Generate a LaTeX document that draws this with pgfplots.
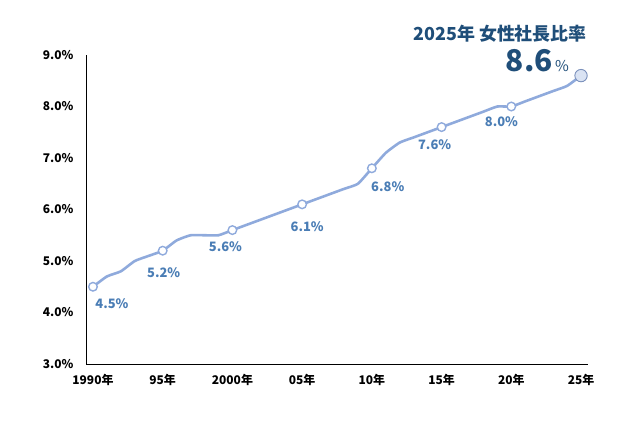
\documentclass[border=0pt]{standalone}
\usepackage{pgfplots}
\pgfplotsset{compat=1.18}
\usepackage{fontspec}
\setmainfont{Noto Sans CJK JP}
\definecolor{linec}{HTML}{8FAADC}
\definecolor{lastfill}{HTML}{DAE3F3}
\definecolor{labc}{HTML}{4A7DB5}
\definecolor{titlec}{HTML}{1F4E79}
\begin{document}
\begin{tikzpicture}
\path[use as bounding box] (0bp,0bp) rectangle (640bp,426bp);
\begin{axis}[
  at={(86bp,62bp)}, anchor=south west,
  width=502bp, height=309bp, scale only axis,
  xmin=1989.5, xmax=2025.5, ymin=3, ymax=9,
  axis lines=left,
  axis line style={-, black, line width=0.8pt},
  xtick={1990,1995,...,2025},
  xticklabels={1990年,95年,2000年,05年,10年,15年,20年,25年},
  ytick={3,4,...,9},
  yticklabels={3.0\%,4.0\%,5.0\%,6.0\%,7.0\%,8.0\%,9.0\%},
  major tick length=0pt,
  tick label style={font=\bfseries\fontsize{12}{14}\selectfont},
  xticklabel style={yshift=-7bp},
  yticklabel style={xshift=-9bp},
  clip=false,
]
% yearly values, 1990-2025
\addplot[linec, line width=2.6pt, smooth, tension=0.3, line join=round] coordinates {
  (1990,4.5) (1991,4.7) (1992,4.8) (1993,5.0) (1994,5.1) (1995,5.2)
  (1996,5.4) (1997,5.5) (1998,5.5) (1999,5.5) (2000,5.6)
  (2001,5.7) (2002,5.8) (2003,5.9) (2004,6.0) (2005,6.1)
  (2006,6.2) (2007,6.3) (2008,6.4) (2009,6.5) (2010,6.8)
  (2011,7.1) (2012,7.3) (2013,7.4) (2014,7.5) (2015,7.6)
  (2016,7.7) (2017,7.8) (2018,7.9) (2019,8.0) (2020,8.0)
  (2021,8.1) (2022,8.2) (2023,8.3) (2024,8.4) (2025,8.6)
};
\addplot[only marks, mark=*, mark size=4.3bp,
  mark options={fill=white, draw=linec, line width=1.4pt}] coordinates {
  (1990,4.5) (1995,5.2) (2000,5.6) (2005,6.1) (2010,6.8) (2015,7.6) (2020,8.0)
};
\addplot[only marks, mark=*, mark size=6.2bp,
  mark options={fill=lastfill, draw=linec!85!black, line width=0.9pt}] coordinates {
  (2025,8.6)
};
\begin{scope}[every node/.style={text=labc, font=\bfseries\fontsize{13}{15}\selectfont}]
\node at (axis cs:1991.36,4.18) {4.5\%};
\node at (axis cs:1995.07,4.77) {5.2\%};
\node at (axis cs:1999.5,5.27) {5.6\%};
\node at (axis cs:2005.36,5.66) {6.1\%};
\node at (axis cs:2011.14,6.44) {6.8\%};
\node at (axis cs:2014.5,7.25) {7.6\%};
\node at (axis cs:2019.29,7.70) {8.0\%};
\end{scope}
\end{axis}
\node[text=titlec, font=\bfseries\fontsize{18}{20}\selectfont] at (500bp,392bp) {2025年 女性社長比率};
\node[text=titlec, anchor=base east, inner sep=0pt, font=\bfseries\fontsize{30}{32}\selectfont] at (553bp,354bp) {8.6};
\node[text=titlec, anchor=base west, inner sep=0pt, font=\fontsize{15}{17}\selectfont] at (555bp,354bp) {\%};
\end{tikzpicture}
\end{document}
